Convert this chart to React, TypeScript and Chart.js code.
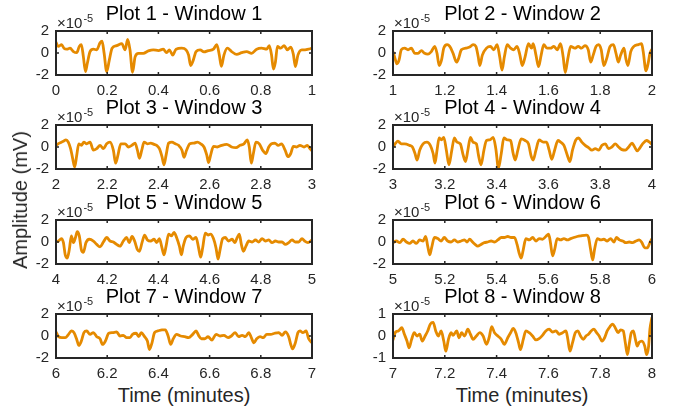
import React, { useEffect, useRef } from "react";
import { Chart, registerables } from "chart.js";
Chart.register(...registerables);

const FONT = '"Liberation Sans", Arial, Helvetica, sans-serif';
const LINE_COLOR = "#E58A00";
const AXIS_COLOR = "#262626";

const titles = [
  "Plot 1 - Window 1", "Plot 2 - Window 2", "Plot 3 - Window 3", "Plot 4 - Window 4",
  "Plot 5 - Window 5", "Plot 6 - Window 6", "Plot 7 - Window 7", "Plot 8 - Window 8",
];
const xMins = [0, 1, 2, 3, 4, 5, 6, 7];
const xMaxs = [1, 2, 3, 4, 5, 6, 7, 8];
const yLims = [2, 2, 2, 2, 2, 2, 2, 1];
const yTickSteps = [2, 2, 2, 2, 2, 2, 2, 1];
const xTickStep = 0.2;
const exponentBase = "×10";
const exponentPower = "-5";
const yAxisLabel = "Amplitude (mV)";
const xAxisLabel = "Time (minutes)";

// amplitudes are in units of 1e-5 mV
const time1 = [0.000,0.009,0.022,0.031,0.042,0.055,0.068,0.081,0.091,0.099,
  0.107,0.115,0.122,0.133,0.146,0.159,0.172,0.180,0.188,0.198,
  0.208,0.219,0.237,0.257,0.270,0.280,0.289,0.299,0.309,0.322,
  0.341,0.361,0.380,0.400,0.419,0.432,0.443,0.456,0.469,0.491,
  0.508,0.518,0.526,0.536,0.547,0.563,0.578,0.595,0.615,0.628,
  0.638,0.646,0.656,0.669,0.686,0.706,0.725,0.745,0.764,0.784,
  0.803,0.823,0.833,0.842,0.849,0.857,0.865,0.878,0.891,0.904,
  0.917,0.927,0.935,0.945,0.960,0.973,0.986,1.000];
const amp1 = [0.98,0.60,0.76,0.44,0.35,0.44,0.13,0.03,0.60,0.76,
  -0.35,-1.68,-0.98,0.13,0.35,0.29,0.92,1.08,-0.03,-1.68,
  -0.67,0.44,0.67,0.86,0.29,1.24,0.29,-1.75,-0.35,-0.03,
  -0.03,0.19,0.29,0.22,0.35,0.03,0.29,-0.19,0.35,0.44,
  0.29,-0.19,-1.14,-0.67,0.13,0.29,0.10,0.22,0.35,0.76,
  -0.19,-1.21,-0.19,0.44,0.13,-0.13,0.03,0.13,-0.03,0.35,
  0.44,0.35,0.67,-0.19,-1.46,-0.83,0.60,0.44,0.67,0.29,
  0.54,-0.10,-1.24,-0.19,0.29,0.29,0.35,0.44];

const time2 = [1.000,1.008,1.015,1.023,1.032,1.045,1.058,1.071,1.084,1.097,
  1.110,1.122,1.135,1.148,1.161,1.170,1.178,1.187,1.196,1.209,
  1.219,1.232,1.245,1.253,1.264,1.281,1.296,1.309,1.320,1.329,
  1.335,1.345,1.361,1.376,1.389,1.402,1.412,1.421,1.430,1.441,
  1.454,1.466,1.479,1.490,1.499,1.510,1.523,1.535,1.541,1.552,
  1.562,1.572,1.582,1.595,1.608,1.621,1.634,1.647,1.657,1.665,
  1.675,1.686,1.702,1.715,1.728,1.741,1.754,1.763,1.773,1.784,
  1.794,1.804,1.814,1.825,1.838,1.851,1.861,1.870,1.879,1.892,
  1.899,1.907,1.918,1.930,1.947,1.960,1.966,1.977,1.986,1.992,
  2.000];
const amp2 = [0.13,-0.51,-0.98,-0.67,0.29,0.44,0.29,0.44,-0.03,-0.03,
  0.22,-0.03,-0.10,0.13,0.60,-0.03,-1.14,-0.67,0.44,0.76,
  0.60,-0.03,-0.83,-0.51,0.29,0.44,0.54,0.76,0.60,-0.35,
  -1.14,-0.19,0.44,0.60,0.29,0.76,-0.35,-1.56,-0.35,0.76,
  0.44,0.29,0.60,-0.19,-1.14,-0.35,0.86,0.44,0.86,-0.19,
  -1.24,-0.19,0.76,0.44,0.44,0.60,0.29,0.86,-0.35,-1.78,
  -0.51,0.60,0.44,0.60,0.44,0.67,0.29,-0.83,-0.19,0.60,
  0.76,0.29,-1.14,-0.51,0.60,0.76,-0.03,-0.83,-0.19,0.44,
  -0.51,-1.14,0.13,0.60,0.76,0.86,0.13,-1.62,-0.83,-0.03,
  0.35];

const time3 = [2.000,2.013,2.029,2.039,2.048,2.057,2.065,2.073,2.081,2.089,
  2.099,2.109,2.120,2.133,2.146,2.159,2.172,2.185,2.198,2.211,
  2.224,2.233,2.242,2.253,2.270,2.283,2.296,2.309,2.318,2.326,
  2.335,2.344,2.357,2.370,2.383,2.393,2.404,2.414,2.422,2.430,
  2.440,2.453,2.466,2.479,2.492,2.500,2.510,2.523,2.539,2.552,
  2.565,2.578,2.589,2.596,2.604,2.615,2.630,2.647,2.667,2.686,
  2.703,2.719,2.734,2.747,2.755,2.763,2.771,2.781,2.794,2.807,
  2.820,2.831,2.842,2.855,2.868,2.881,2.895,2.906,2.917,2.927,
  2.940,2.953,2.969,2.982,2.992,3.000];
const amp3 = [0.15,0.35,0.53,0.65,0.44,-0.15,-1.03,-1.82,-0.74,0.29,
  0.15,0.44,0.29,0.44,-0.29,-0.15,0.15,-0.15,0.29,0.44,
  -0.29,-1.47,-0.74,0.29,0.29,0.00,0.15,0.35,-0.29,-1.03,
  -0.29,0.44,0.29,0.35,0.24,0.15,-0.15,-0.88,-1.62,-0.74,
  0.35,0.44,0.29,0.15,-0.29,-0.94,-0.29,0.29,0.35,0.44,
  0.29,0.00,-0.74,-1.41,-0.74,0.06,0.00,0.15,0.24,0.00,
  -0.06,0.15,0.29,0.65,0.00,-1.47,-0.59,0.44,0.29,-0.29,
  -0.59,0.00,0.29,0.35,0.15,0.29,-0.29,-0.88,-0.59,0.06,
  0.00,0.15,0.00,0.15,-0.15,-0.35];

const time4 = [3.000,3.010,3.019,3.032,3.045,3.064,3.075,3.085,3.093,3.103,
  3.116,3.131,3.144,3.155,3.162,3.170,3.178,3.187,3.196,3.206,
  3.216,3.227,3.237,3.247,3.260,3.271,3.280,3.289,3.299,3.309,
  3.322,3.330,3.340,3.351,3.361,3.374,3.387,3.397,3.407,3.418,
  3.428,3.441,3.454,3.464,3.472,3.482,3.495,3.510,3.523,3.534,
  3.541,3.552,3.564,3.580,3.593,3.603,3.613,3.624,3.637,3.647,
  3.660,3.673,3.683,3.693,3.706,3.716,3.729,3.742,3.755,3.768,
  3.781,3.794,3.807,3.820,3.832,3.845,3.858,3.871,3.884,3.897,
  3.910,3.923,3.933,3.943,3.954,3.966,3.979,3.990,4.000];
const amp4 = [0.00,0.35,0.53,0.29,0.29,0.15,0.00,-0.59,-1.18,-0.29,
  0.29,0.44,0.15,-0.59,-1.47,-0.29,0.82,0.65,0.88,-0.29,
  -1.62,-0.29,0.82,0.44,0.29,-0.74,-1.32,-0.29,0.88,0.44,
  0.29,-0.74,-1.62,-0.29,0.59,0.65,0.88,-0.15,-1.91,-0.59,
  0.82,0.65,0.59,-0.59,-1.18,-0.29,0.74,0.59,0.29,-0.88,
  -1.18,-0.29,0.65,0.44,0.44,-0.29,-1.12,-0.29,0.59,0.44,
  0.15,-0.74,-1.32,-0.29,0.65,0.82,0.44,0.15,-0.06,-0.29,
  -0.15,-0.29,0.15,0.29,-0.15,0.00,0.29,0.00,-0.24,-0.29,
  0.00,0.35,0.00,-0.35,-0.06,0.35,0.59,0.44,0.24];

const time5 = [4.000,4.010,4.021,4.029,4.036,4.044,4.052,4.060,4.068,4.076,
  4.083,4.091,4.099,4.107,4.117,4.130,4.146,4.159,4.172,4.185,
  4.198,4.211,4.224,4.237,4.250,4.263,4.276,4.286,4.297,4.307,
  4.318,4.326,4.336,4.346,4.357,4.370,4.383,4.393,4.404,4.414,
  4.422,4.430,4.440,4.451,4.461,4.471,4.482,4.490,4.497,4.508,
  4.521,4.534,4.547,4.557,4.565,4.573,4.583,4.594,4.604,4.615,
  4.625,4.633,4.641,4.651,4.661,4.674,4.688,4.698,4.708,4.716,
  4.724,4.732,4.742,4.753,4.766,4.779,4.792,4.805,4.818,4.831,
  4.844,4.857,4.870,4.883,4.896,4.909,4.922,4.935,4.948,4.961,
  4.971,4.984,5.000];
const amp5 = [0.00,0.09,0.31,-0.06,-1.16,-1.47,-0.69,0.56,-0.06,0.41,
  0.94,0.56,-0.69,-0.94,-0.06,0.25,0.09,-0.22,-0.44,0.00,
  0.41,0.09,0.00,-0.22,-0.38,0.09,0.41,-0.06,0.50,0.09,
  -0.69,-0.84,-0.06,0.63,0.19,0.09,0.25,-0.06,0.31,-0.53,
  -1.16,-0.38,0.72,0.56,0.88,0.41,-0.38,-1.16,-0.38,0.41,
  0.56,0.25,0.41,-0.53,-1.38,-0.53,0.81,0.63,0.72,0.31,
  -0.53,-1.56,-0.69,0.31,0.41,0.09,0.25,-0.06,0.41,0.72,
  -0.22,-0.84,-0.38,0.09,0.00,0.19,0.00,0.31,0.09,0.19,
  -0.06,0.09,0.00,0.00,-0.22,-0.06,0.19,0.00,0.00,0.31,
  0.09,-0.06,0.19];

const time6 = [5.000,5.013,5.026,5.039,5.052,5.064,5.077,5.090,5.103,5.116,
  5.126,5.134,5.142,5.149,5.160,5.173,5.186,5.198,5.211,5.224,
  5.237,5.250,5.263,5.276,5.286,5.296,5.307,5.317,5.327,5.340,
  5.353,5.366,5.379,5.392,5.405,5.418,5.430,5.443,5.456,5.469,
  5.479,5.487,5.495,5.503,5.513,5.526,5.539,5.552,5.564,5.577,
  5.590,5.601,5.608,5.616,5.624,5.634,5.647,5.660,5.673,5.686,
  5.698,5.711,5.724,5.747,5.755,5.763,5.771,5.778,5.789,5.802,
  5.814,5.827,5.840,5.853,5.863,5.874,5.887,5.899,5.912,5.925,
  5.938,5.951,5.961,5.972,5.982,5.992,6.000];
const amp6 = [-0.06,0.09,-0.06,0.25,0.00,-0.13,0.09,-0.13,0.19,0.09,
  0.50,-0.38,-1.16,-0.53,0.41,0.31,0.09,0.41,0.09,0.00,
  0.19,0.00,0.09,0.19,0.00,0.25,0.00,-0.22,-0.38,-0.22,
  -0.06,0.00,0.09,0.00,0.19,0.41,0.41,0.50,0.41,0.41,
  -0.22,-1.00,-1.47,-0.69,0.31,0.19,0.41,0.09,0.31,0.25,
  0.50,0.72,-0.06,-1.25,-0.69,0.31,0.19,0.31,0.19,0.31,
  0.41,0.50,0.56,0.63,0.41,-0.69,-1.63,-0.69,0.31,0.19,
  0.25,0.09,0.31,0.00,0.41,0.19,0.09,-0.06,0.00,-0.06,
  0.09,0.19,-0.06,-0.53,-0.53,-0.06,0.31];

const time7 = [6.000,6.010,6.023,6.036,6.049,6.060,6.070,6.081,6.089,6.099,
  6.109,6.120,6.133,6.146,6.159,6.172,6.182,6.193,6.206,6.221,
  6.237,6.250,6.263,6.276,6.289,6.299,6.313,6.323,6.333,6.346,
  6.357,6.365,6.375,6.385,6.398,6.414,6.427,6.438,6.448,6.458,
  6.471,6.487,6.503,6.518,6.534,6.547,6.557,6.568,6.581,6.594,
  6.609,6.625,6.641,6.656,6.672,6.685,6.700,6.713,6.727,6.740,
  6.753,6.763,6.773,6.784,6.797,6.810,6.823,6.839,6.854,6.870,
  6.883,6.896,6.909,6.917,6.924,6.935,6.945,6.953,6.964,6.977,
  6.987,7.000];
const amp7 = [0.37,-0.06,-0.15,-0.15,0.15,0.46,0.31,-0.31,-0.86,-0.46,
  0.31,0.46,0.15,0.31,-0.06,-0.25,-0.77,-0.46,0.25,0.31,
  0.37,0.00,0.06,-0.15,-0.15,0.15,0.25,-0.06,0.31,-0.06,
  -0.46,-1.23,-0.62,0.31,0.46,0.55,0.55,0.00,-0.77,-0.25,
  0.15,0.00,-0.06,-0.15,0.15,0.46,0.06,-0.25,-0.25,-0.06,
  -0.37,0.15,0.00,0.06,-0.15,0.00,0.31,-0.06,0.06,-0.06,
  0.31,-0.15,-0.62,-0.25,-0.06,-0.15,0.15,0.15,0.25,0.31,
  0.06,0.37,-0.06,-0.77,-1.17,-0.62,0.31,0.46,0.31,0.46,
  -0.25,-0.62];

const time8 = [7.000,7.010,7.021,7.034,7.044,7.054,7.062,7.072,7.082,7.093,
  7.103,7.113,7.124,7.134,7.144,7.155,7.165,7.175,7.186,7.196,
  7.204,7.214,7.224,7.232,7.246,7.255,7.265,7.276,7.289,7.299,
  7.309,7.322,7.335,7.348,7.361,7.371,7.381,7.392,7.405,7.418,
  7.430,7.443,7.454,7.464,7.474,7.485,7.492,7.503,7.513,7.526,
  7.539,7.552,7.564,7.577,7.590,7.603,7.616,7.629,7.642,7.655,
  7.668,7.675,7.683,7.693,7.704,7.714,7.724,7.735,7.745,7.755,
  7.765,7.776,7.786,7.796,7.807,7.817,7.827,7.838,7.848,7.858,
  7.869,7.879,7.889,7.897,7.905,7.912,7.920,7.928,7.936,7.943,
  7.951,7.961,7.972,7.979,7.987,7.992,8.000];
const amp8 = [-0.18,0.18,0.23,0.38,0.08,-0.23,-0.54,-0.15,0.15,0.00,
  0.08,-0.23,0.00,0.23,0.54,0.62,0.23,0.00,0.23,-0.23,
  -0.69,-0.15,0.15,0.03,0.23,-0.08,0.15,0.00,0.31,0.08,
  -0.15,0.00,0.15,0.00,-0.38,-0.08,0.43,0.15,0.00,-0.15,
  -0.38,-0.08,0.15,0.34,0.15,-0.31,-0.62,-0.15,0.23,0.15,
  0.00,-0.18,-0.12,0.03,0.23,0.31,0.18,0.23,0.08,0.15,
  0.23,-0.15,-0.69,-0.31,0.15,0.23,0.00,-0.15,0.00,0.08,
  0.23,0.31,0.15,0.00,-0.23,-0.08,0.23,0.43,0.54,0.38,
  0.15,0.28,0.23,-0.31,-0.85,-0.38,0.15,0.23,-0.15,-0.46,
  -0.28,-0.23,-0.46,-0.85,-0.46,0.31,0.85];

const times = [time1, time2, time3, time4, time5, time6, time7, time8];
const amps = [amp1, amp2, amp3, amp4, amp5, amp6, amp7, amp8];

// layout (pixels)
const COL_LEFT = [56, 393];
const COL_RIGHT = [312, 652];
const ROW_TOP = [31, 125, 220, 314];
const BOX_H = 44;
const PL = 46, PT = 30, PR = 14, PB = 24;

const fmt = (v: number) => String(Math.round(v * 10) / 10);

const framePlugin = {
  id: "frame",
  afterDatasetsDraw(chart: any) {
    const { ctx, chartArea: a, scales } = chart;
    ctx.save();
    ctx.strokeStyle = AXIS_COLOR;
    ctx.lineWidth = 1.5;
    const tl = 3;
    ctx.beginPath();
    scales.x.ticks.forEach((t: any) => {
      const px = scales.x.getPixelForValue(t.value);
      ctx.moveTo(px, a.bottom);
      ctx.lineTo(px, a.bottom - tl);
      ctx.moveTo(px, a.top);
      ctx.lineTo(px, a.top + tl);
    });
    scales.y.ticks.forEach((t: any) => {
      const py = scales.y.getPixelForValue(t.value);
      ctx.moveTo(a.left, py);
      ctx.lineTo(a.left + tl, py);
      ctx.moveTo(a.right, py);
      ctx.lineTo(a.right - tl, py);
    });
    ctx.stroke();
    ctx.lineWidth = 2;
    ctx.strokeRect(a.left, a.top, a.right - a.left, a.bottom - a.top);
    ctx.restore();
  },
  afterDraw(chart: any, _args: any, opts: any) {
    const { ctx, chartArea: a } = chart;
    ctx.save();
    ctx.fillStyle = "#000";
    ctx.font = `20px ${FONT}`;
    ctx.textAlign = "center";
    ctx.textBaseline = "middle";
    ctx.fillText(opts.title, (a.left + a.right) / 2, a.top - 17);
    ctx.fillStyle = AXIS_COLOR;
    ctx.textAlign = "left";
    ctx.font = `15px ${FONT}`;
    ctx.fillText(exponentBase, a.left + 1, a.top - 7);
    const w = ctx.measureText(exponentBase).width;
    ctx.font = `11px ${FONT}`;
    ctx.fillText(exponentPower, a.left + 2 + w, a.top - 12);
    ctx.restore();
  },
};

function SubPlot({ index }: { index: number }) {
  const ref = useRef<HTMLCanvasElement>(null);
  const col = index % 2;
  const row = Math.floor(index / 2);
  const w = COL_RIGHT[col] - COL_LEFT[col] + PL + PR;
  const h = BOX_H + PT + PB;
  useEffect(() => {
    const t = times[index];
    const v = amps[index];
    const n = Math.min(t.length, v.length);
    const data = [] as { x: number; y: number }[];
    for (let i = 0; i < n; i++) data.push({ x: t[i], y: v[i] });
    const chart = new Chart(ref.current as HTMLCanvasElement, {
      type: "line",
      data: {
        datasets: [
          {
            data,
            borderColor: LINE_COLOR,
            borderWidth: 2.8,
            pointRadius: 0,
            cubicInterpolationMode: "monotone",
            fill: false,
          },
        ],
      },
      plugins: [framePlugin as any],
      options: {
        animation: false,
        responsive: false,
        events: [],
        layout: { padding: { top: PT, right: PR, left: 0, bottom: 0 } },
        plugins: {
          legend: { display: false },
          tooltip: { enabled: false },
          title: { display: false },
          frame: { title: titles[index] },
        } as any,
        scales: {
          x: {
            type: "linear",
            min: xMins[index],
            max: xMaxs[index],
            grid: { display: false, drawTicks: false },
            border: { display: false },
            ticks: {
              stepSize: xTickStep,
              autoSkip: false,
              maxRotation: 0,
              padding: 7,
              color: AXIS_COLOR,
              font: { family: FONT, size: 15 },
              callback: (val: any) => fmt(Number(val)),
            },
            afterFit: (s: any) => {
              s.height = PB;
            },
          },
          y: {
            type: "linear",
            min: -yLims[index],
            max: yLims[index],
            grid: { display: false, drawTicks: false },
            border: { display: false },
            ticks: {
              stepSize: yTickSteps[index],
              padding: 7,
              color: AXIS_COLOR,
              font: { family: FONT, size: 15 },
              callback: (val: any) => fmt(Number(val)),
            },
            afterFit: (s: any) => {
              s.width = PL;
            },
          },
        },
      },
    });
    return () => chart.destroy();
  }, [index]);
  return (
    <canvas
      ref={ref}
      width={w}
      height={h}
      style={{
        position: "absolute",
        left: COL_LEFT[col] - PL,
        top: ROW_TOP[row] - PT,
        width: w,
        height: h,
      }}
    />
  );
}

export default function App() {
  const labelStyle: React.CSSProperties = {
    position: "absolute",
    fontFamily: FONT,
    fontSize: 20,
    color: AXIS_COLOR,
    whiteSpace: "nowrap",
    lineHeight: "20px",
  };
  return (
    <div
      style={{
        position: "absolute",
        left: 0,
        top: 0,
        width: 678,
        height: 406,
        background: "#fff",
        overflow: "hidden",
      }}
    >
      {titles.map((_, i) => (
        <SubPlot key={i} index={i} />
      ))}
      <div
        style={{
          ...labelStyle,
          left: 20,
          top: 200,
          transform: "translate(-50%, -50%) rotate(-90deg)",
        }}
      >
        {yAxisLabel}
      </div>
      <div style={{ ...labelStyle, left: 184, top: 395, transform: "translate(-50%, -50%)" }}>
        {xAxisLabel}
      </div>
      <div style={{ ...labelStyle, left: 522, top: 395, transform: "translate(-50%, -50%)" }}>
        {xAxisLabel}
      </div>
    </div>
  );
}
